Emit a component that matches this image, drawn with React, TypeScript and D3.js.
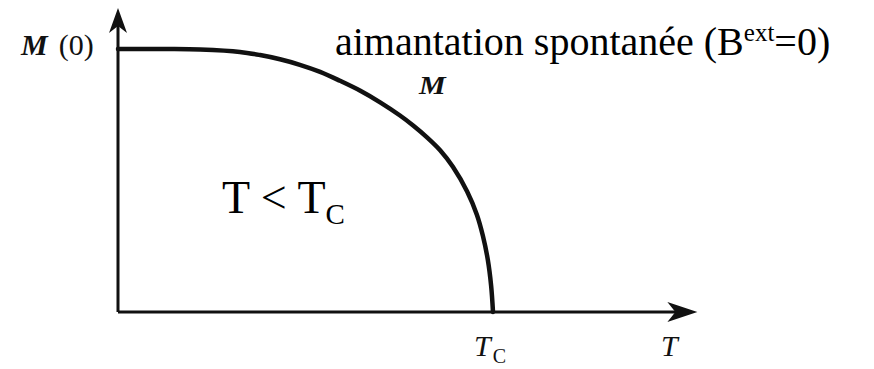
import React from "react";
import * as d3 from "d3";

// Reduced temperature T/Tc and reduced spontaneous magnetisation M/M(0)
const temperature = [0, 0.139, 0.219, 0.325, 0.379, 0.432, 0.485, 0.539, 0.592, 0.645, 0.699, 0.752, 0.787, 0.824, 0.859, 0.893, 0.931, 0.957, 0.973, 0.986, 0.995, 1.0];
const magnetisation = [1.0, 1.0, 0.998, 0.989, 0.977, 0.961, 0.94, 0.913, 0.879, 0.842, 0.797, 0.747, 0.709, 0.664, 0.615, 0.552, 0.458, 0.37, 0.29, 0.2, 0.1, 0.0];

const xAxisMax = 1.545;
const yAxisMax = 1.156;

const W = 874;
const H = 369;

const serif = "'Liberation Serif', 'Times New Roman', serif";

export default function App() {
  const x = d3.scaleLinear().domain([0, 1]).range([118, 493]);
  const y = d3.scaleLinear().domain([0, 1]).range([312, 49]);

  const pts: [number, number][] = temperature.map((t, i) => [t, magnetisation[i]]);
  const curve = d3
    .line<[number, number]>()
    .x((d) => x(d[0]))
    .y((d) => y(d[1]))
    .curve(d3.curveCatmullRom.alpha(0.5))(pts);

  const x0 = x(0);
  const y0 = y(0);
  const xEnd = x(xAxisMax);
  const yEnd = y(yAxisMax);

  // notched arrowheads at the axis ends
  const upArrow = `M${x0},${yEnd} L${x0 + 9},${yEnd + 25} L${x0},${yEnd + 18} L${x0 - 9},${yEnd + 25} Z`;
  const rightArrow = `M${xEnd},${y0} L${xEnd - 30},${y0 - 10} L${xEnd - 22},${y0} L${xEnd - 30},${y0 + 10} Z`;

  return (
    <svg
      width={W}
      height={H}
      style={{ position: "fixed", left: 0, top: 0, background: "#fff" }}
    >
      {/* axes */}
      <line x1={x0} y1={y0} x2={xEnd - 20} y2={y0} stroke="#111" strokeWidth={3} />
      <line x1={x0} y1={y0} x2={x0} y2={yEnd + 15} stroke="#111" strokeWidth={3} />
      <path d={upArrow} fill="#111" />
      <path d={rightArrow} fill="#111" />

      {/* magnetisation curve */}
      <path d={curve ?? ""} fill="none" stroke="#111" strokeWidth={4.5} strokeLinecap="round" />

      {/* axis labels */}
      <text x={21} y={55} fontFamily={serif} fontSize={30} fill="#111">
        <tspan fontWeight="bold" fontStyle="italic">M</tspan>
        <tspan dx={11}>(0)</tspan>
      </text>
      <text x={474} y={356} fontFamily={serif} fontSize={30} fontStyle="italic" fill="#111">
        T
        <tspan fontStyle="normal" fontSize={20} dx={2} dy={7}>C</tspan>
      </text>
      <text x={661} y={356} fontFamily={serif} fontSize={30} fontStyle="italic" fill="#111">
        T
      </text>

      {/* curve label */}
      <text
        transform="translate(419,94) scale(1.2,1)"
        fontFamily={serif}
        fontSize={25}
        fontWeight="bold"
        fontStyle="italic"
        fill="#111"
      >
        M
      </text>

      {/* title */}
      <text x={335} y={55} fontFamily={serif} fontSize={40} fill="#000">
        aimantation spontanée (B
        <tspan fontSize={25} dy={-14}>ext</tspan>
        <tspan dy={14}>=0)</tspan>
      </text>

      {/* region annotation */}
      <text x={222} y={213} fontFamily={serif} fontSize={46} fill="#000">
        T &lt; T
        <tspan fontSize={29} dy={11}>C</tspan>
      </text>
    </svg>
  );
}
